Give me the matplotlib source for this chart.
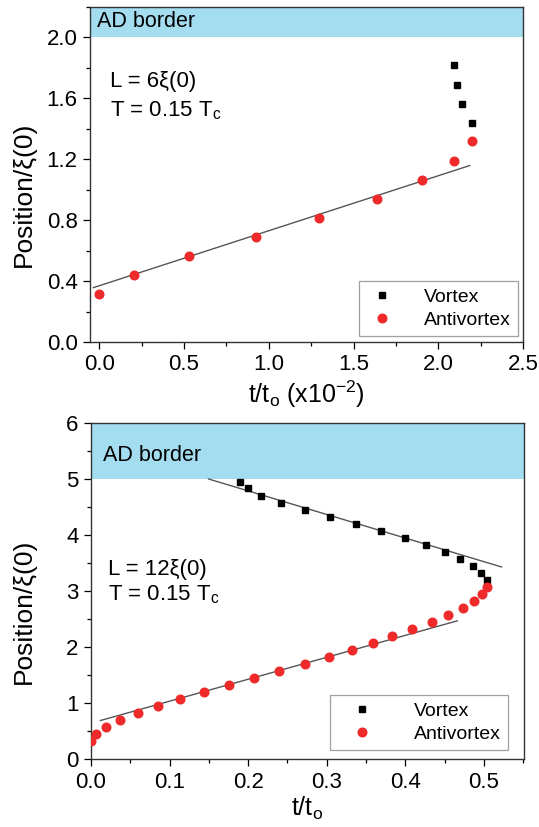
import matplotlib
matplotlib.use("Agg")
import matplotlib.pyplot as plt
from matplotlib.ticker import MultipleLocator

plt.rcParams['font.family'] = ['Liberation Sans', 'DejaVu Sans']
plt.rcParams['mathtext.fontset'] = 'custom'
plt.rcParams['mathtext.rm'] = 'Liberation Sans'
plt.rcParams['mathtext.it'] = 'Liberation Sans'

# ---- top panel data (t/t0 in units of 1e-2) ----
top_vortex_t = [2.094, 2.11, 2.141, 2.20]
top_vortex_pos = [1.816, 1.689, 1.564, 1.439]
top_anti_t = [0.0, 0.206, 0.529, 0.924, 1.296, 1.641, 1.904, 2.094, 2.20]
top_anti_pos = [0.315, 0.438, 0.565, 0.688, 0.813, 0.940, 1.065, 1.19, 1.317]
top_fit_t = [-0.035, 2.186]
top_fit_pos = [0.357, 1.159]

# ---- bottom panel data ----
bot_vortex_t = [0.1894, 0.1992, 0.2169, 0.2424, 0.2725, 0.3042, 0.3369, 0.3691,
                0.3992, 0.4263, 0.45, 0.4695, 0.4856, 0.4966, 0.5034]
bot_vortex_pos = [4.952, 4.833, 4.695, 4.570, 4.450, 4.325, 4.200, 4.074,
                  3.949, 3.823, 3.698, 3.572, 3.453, 3.327, 3.202]
bot_anti_t = [0.0, 0.0064, 0.0191, 0.0369, 0.0593, 0.0847, 0.1136, 0.1436, 0.1758,
              0.2076, 0.2398, 0.2720, 0.3025, 0.3322, 0.3585, 0.3835, 0.4089,
              0.4335, 0.4547, 0.4729, 0.4873, 0.4979, 0.5034]
bot_anti_pos = [0.329, 0.448, 0.568, 0.693, 0.818, 0.944, 1.069, 1.195, 1.320,
                1.446, 1.565, 1.691, 1.816, 1.941, 2.067, 2.192, 2.318, 2.443,
                2.569, 2.688, 2.820, 2.945, 3.070]
bot_vfit_t = [0.1496, 0.5225]
bot_vfit_pos = [5.0, 3.429]
bot_afit_t = [0.0119, 0.4661]
bot_afit_pos = [0.687, 2.467]

top_xticks = [0.0, 0.5, 1.0, 1.5, 2.0, 2.5]
top_xticklabels = ['0.0', '0.5', '1.0', '1.5', '2.0', '2.5']
top_yticks = [0.0, 0.4, 0.8, 1.2, 1.6, 2.0]
top_yticklabels = ['0.0', '0.4', '0.8', '1.2', '1.6', '2.0']

W, H = 539, 827
fig = plt.figure(figsize=(W / 100, H / 100), dpi=100)

def ax_rect(l, r, t, b):
    return [l / W, 1 - b / H, (r - l) / W, (b - t) / H]

ax1 = fig.add_axes(ax_rect(90, 523, 7, 342))
ax2 = fig.add_axes(ax_rect(91, 524, 423, 759))

band_color = '#a4dcf0'
red = '#ee2a2a'
line_color = '#555555'

def style(ax):
    ax.tick_params(which='both', direction='out', top=False, right=False,
                   labelsize=16, colors='black', pad=4)
    ax.tick_params(which='major', length=5, width=0.9)
    ax.tick_params(which='minor', length=3, width=0.9)
    for s in ax.spines.values():
        s.set_color('#333333')
        s.set_linewidth(1.0)

# ---- top ----
ax1.axhspan(2.0, 2.2, color=band_color, lw=0, zorder=0)
ax1.plot(top_fit_t, top_fit_pos, color=line_color, lw=1.0, zorder=2)
ax1.plot(top_vortex_t, top_vortex_pos, 's', color='black', ms=4.8, lw=0,
         label='Vortex', zorder=3)
ax1.plot(top_anti_t, top_anti_pos, 'o', color=red, ms=6.2, lw=0,
         label='Antivortex', zorder=3)
ax1.set_xlim(-0.055, 2.5)
ax1.set_ylim(0, 2.2)
ax1.set_xticks(top_xticks)
ax1.set_xticklabels(top_xticklabels)
ax1.xaxis.set_minor_locator(MultipleLocator(0.25))
ax1.set_yticks(top_yticks)
ax1.set_yticklabels(top_yticklabels)
ax1.yaxis.set_minor_locator(MultipleLocator(0.2))
style(ax1)
ax1.text(-0.014, 2.105, 'AD border', fontsize=15.5, va='center', ha='left')
ax1.text(0.063, 1.675, 'L = 6ξ(0)', fontsize=16, va='baseline', ha='left')
ax1.text(0.063, 1.482, r'T = 0.15 T$_{\mathregular{c}}$', fontsize=16,
         va='baseline', ha='left')
ax1.set_xlabel(r't/t$_{\mathregular{o}}$ (x10$^{\mathregular{-2}}$)', fontsize=18,
               labelpad=2)
ax1.set_ylabel('Position/ξ(0)', fontsize=19)
ax1.yaxis.set_label_coords(-0.125, 0.44)
leg1 = ax1.legend(loc='lower right',
                  bbox_to_anchor=((518 - 90) / 433, (342 - 336) / 335),
                  bbox_transform=ax1.transAxes,
                  fontsize=14, frameon=True, fancybox=False,
                  edgecolor='#888888', borderpad=0.35, handletextpad=1.4,
                  labelspacing=0.3, handlelength=1.6, borderaxespad=0.0)
leg1.get_frame().set_linewidth(0.9)

# ---- bottom ----
ax2.axhspan(5.0, 6.0, color=band_color, lw=0, zorder=0)
ax2.plot(bot_vfit_t, bot_vfit_pos, color=line_color, lw=1.0, zorder=2)
ax2.plot(bot_afit_t, bot_afit_pos, color=line_color, lw=1.0, zorder=2)
ax2.plot(bot_vortex_t, bot_vortex_pos, 's', color='black', ms=4.8, lw=0,
         label='Vortex', zorder=3)
ax2.plot(bot_anti_t, bot_anti_pos, 'o', color=red, ms=6.2, lw=0,
         label='Antivortex', zorder=3)
ax2.set_xlim(0, 0.551)
ax2.set_ylim(0, 6)
ax2.xaxis.set_major_locator(MultipleLocator(0.1))
ax2.xaxis.set_minor_locator(MultipleLocator(0.05))
ax2.yaxis.set_major_locator(MultipleLocator(1))
ax2.yaxis.set_minor_locator(MultipleLocator(0.5))
style(ax2)
ax2.text(0.0157, 5.327, 'AD border', fontsize=15.5, va='baseline', ha='left')
ax2.text(0.0216, 3.29, 'L = 12ξ(0)', fontsize=16, va='baseline', ha='left')
ax2.text(0.0216, 2.84, r'T = 0.15 T$_{\mathregular{c}}$', fontsize=16,
         va='baseline', ha='left')
ax2.set_xlabel(r't/t$_{\mathregular{o}}$', fontsize=18, labelpad=2)
ax2.set_ylabel('Position/ξ(0)', fontsize=19)
ax2.yaxis.set_label_coords(-0.128, 0.44)
leg2 = ax2.legend(loc='lower right',
                  bbox_to_anchor=((508 - 91) / 433, (759 - 750) / 336),
                  bbox_transform=ax2.transAxes,
                  fontsize=14, frameon=True, fancybox=False,
                  edgecolor='#888888', borderpad=0.35, handletextpad=1.4,
                  labelspacing=0.3, handlelength=2.6, borderaxespad=0.0)
leg2.get_frame().set_linewidth(0.9)

fig.savefig('out.png', dpi=100)
